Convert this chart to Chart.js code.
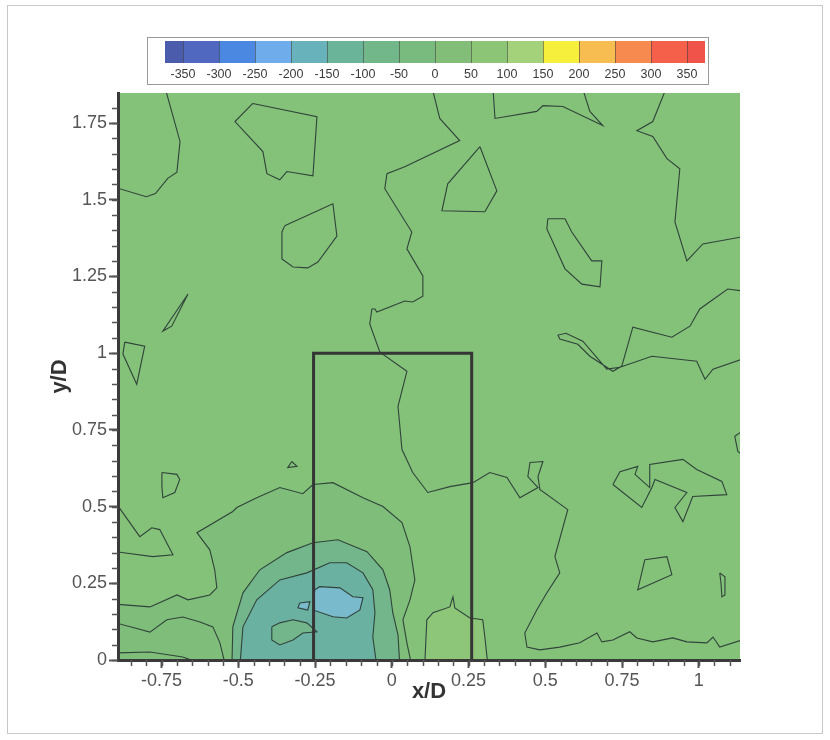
<!DOCTYPE html>
<html>
<head>
<meta charset="utf-8">
<script src="https://cdn.jsdelivr.net/npm/chart.js@4.4.0/dist/chart.umd.min.js"></script>
<style>
  body { margin: 0; background: #fff; }
  #frame { position: absolute; left: 7px; top: 5px; width: 814px; height: 727px; border: 1px solid #c8c8c8; }
  #wrap { position: absolute; left: 0; top: 0; width: 830px; height: 740px; }
</style>
</head>
<body>
<div id="frame"></div>
<div id="wrap"><canvas id="contour" width="830" height="740"></canvas></div>
<script>
// axis ranges and ticks
const xRange = [-0.892, 1.134];
const yRange = [0, 1.848];
const xTickVals = [-0.75, -0.5, -0.25, 0, 0.25, 0.5, 0.75, 1];
const xTickLabels = ['-0.75', '-0.5', '-0.25', '0', '0.25', '0.5', '0.75', '1'];
const yTickVals = [0, 0.25, 0.5, 0.75, 1, 1.25, 1.5, 1.75];
const yTickLabels = ['0', '0.25', '0.5', '0.75', '1', '1.25', '1.5', '1.75'];

// colour legend levels
const levels = [-350, -300, -250, -200, -150, -100, -50, 0, 50, 100, 150, 200, 250, 300, 350];
const levelColors = ['#4a5cab', '#5068c0', '#4b88e2', '#6eacec', '#68b2bc', '#6ab59a', '#71b78a', '#79ba7f',
  '#82be78', '#8cc575', '#a4d27b', '#f6ef3c', '#f7bd50', '#f78a4f', '#f4604a', '#ef5349'];

// body outline (x/D, y/D)
const boxX = [-0.255, -0.255, 0.26, 0.26];
const boxY = [0, 1, 1, 0];

// contour lines, [x/D, y/D]
const cTopLeft = [[-0.74, 1.87], [-0.69, 1.69], [-0.70, 1.59], [-0.73, 1.57], [-0.77, 1.52], [-0.80, 1.51], [-0.90, 1.54]];
const cTopPoly = [[-0.453, 1.814], [-0.244, 1.771], [-0.257, 1.578], [-0.342, 1.592], [-0.365, 1.565], [-0.407, 1.585], [-0.420, 1.657], [-0.511, 1.755]];
const cEgg = [[-0.349, 1.415], [-0.192, 1.487], [-0.179, 1.382], [-0.241, 1.297], [-0.274, 1.278], [-0.322, 1.281], [-0.358, 1.307], [-0.358, 1.395]];
const cSliver = [[-0.664, 1.193], [-0.746, 1.072], [-0.717, 1.088]];
const cLeftSmall = [[-0.870, 1.036], [-0.805, 1.023], [-0.831, 0.899], [-0.876, 0.997]];
const cMidLine = [[0.130, 1.87], [0.156, 1.765], [0.221, 1.693], [0.042, 1.608], [-0.016, 1.585], [-0.023, 1.536],
  [0.065, 1.395], [0.049, 1.340], [0.101, 1.252], [0.101, 1.186], [0.068, 1.167], [0.042, 1.170], [-0.049, 1.134],
  [-0.055, 1.144], [-0.065, 1.144], [-0.072, 1.095], [-0.039, 1.003], [0.049, 0.941], [0.020, 0.827], [0.033, 0.686],
  [0.068, 0.611], [0.117, 0.546], [0.189, 0.565], [0.264, 0.578], [0.319, 0.611], [0.375, 0.595], [0.417, 0.529],
  [0.476, 0.562], [0.443, 0.598], [0.450, 0.644], [0.492, 0.647], [0.476, 0.598], [0.482, 0.556], [0.573, 0.490],
  [0.531, 0.337], [0.547, 0.284], [0.505, 0.219], [0.472, 0.163], [0.433, 0.088], [0.440, 0.042], [0.482, 0.033],
  [0.547, 0.042], [0.612, 0.056], [0.668, 0.088], [0.684, 0.059], [0.720, 0.065], [0.775, 0.092], [0.798, 0.072],
  [0.850, 0.059], [0.915, 0.072], [0.961, 0.059], [1.026, 0.056], [1.046, 0.075], [1.068, 0.042], [1.14, 0.065]];
const cTopRightA = [[0.329, 1.87], [0.336, 1.765], [0.472, 1.788], [0.492, 1.807], [0.557, 1.804], [0.687, 1.742], [0.645, 1.788], [0.619, 1.87]];
const cTopRightB = [[0.896, 1.87], [0.850, 1.755], [0.798, 1.725], [0.850, 1.706], [0.896, 1.634], [0.938, 1.601],
  [0.922, 1.428], [0.961, 1.301], [1.013, 1.356], [1.14, 1.379]];
const cRightPoly = [[0.287, 1.673], [0.342, 1.529], [0.303, 1.461], [0.163, 1.464], [0.182, 1.552]];
const cRightLong = [[0.508, 1.438], [0.564, 1.438], [0.586, 1.395], [0.651, 1.301], [0.684, 1.301], [0.678, 1.216],
  [0.619, 1.225], [0.564, 1.275], [0.505, 1.405]];
const cRightFinger = [[1.14, 1.203], [1.094, 1.209], [1.003, 1.144], [0.971, 1.088], [0.912, 1.052], [0.785, 1.085],
  [0.749, 0.958], [0.720, 0.941], [0.645, 0.990], [0.606, 1.029], [0.547, 1.046], [0.541, 1.059], [0.567, 1.065],
  [0.622, 1.039], [0.700, 0.948], [0.743, 0.954], [0.847, 0.990], [0.993, 0.974], [1.020, 0.915], [1.046, 0.948], [1.14, 0.980]];
const cRightArrow = [[0.720, 0.572], [0.743, 0.614], [0.801, 0.631], [0.792, 0.605], [0.840, 0.562], [0.840, 0.637],
  [0.948, 0.654], [0.993, 0.621], [1.075, 0.582], [1.091, 0.539], [0.980, 0.533], [0.948, 0.451], [0.922, 0.497],
  [0.961, 0.546], [0.857, 0.588], [0.847, 0.562], [0.814, 0.497]];
const cKite = [[0.824, 0.327], [0.896, 0.337], [0.912, 0.278], [0.801, 0.229]];
const cOval = [[1.068, 0.284], [1.085, 0.271], [1.085, 0.212], [1.075, 0.206], [1.072, 0.252]];
const cEdge = [[1.14, 0.745], [1.117, 0.729], [1.127, 0.680], [1.14, 0.670]];
const cLeftLobe = [[-0.90, 0.513], [-0.821, 0.402], [-0.782, 0.431], [-0.756, 0.425], [-0.713, 0.343], [-0.779, 0.337], [-0.90, 0.353]];
const cLeftD = [[-0.749, 0.611], [-0.700, 0.605], [-0.691, 0.588], [-0.707, 0.546], [-0.746, 0.529], [-0.749, 0.565]];
const cTri = [[-0.326, 0.647], [-0.339, 0.627], [-0.309, 0.631]];
const cBottomLeft = [[-0.90, 0.023], [-0.788, 0.026], [-0.681, 0.010], [-0.625, -0.01]];
const cLowLeft = [[-0.90, 0.121], [-0.837, 0.104], [-0.788, 0.091], [-0.733, 0.131], [-0.681, 0.140], [-0.625, 0.124],
  [-0.583, 0.108], [-0.560, 0.056], [-0.544, -0.01]];

// wake deficit region, outer to inner
const cDome = [[-0.95, 0.186], [-0.788, 0.173], [-0.700, 0.212], [-0.664, 0.196], [-0.593, 0.212], [-0.570, 0.235],
  [-0.577, 0.294], [-0.593, 0.359], [-0.635, 0.415], [-0.518, 0.484], [-0.505, 0.497], [-0.440, 0.529], [-0.365, 0.562],
  [-0.290, 0.542], [-0.257, 0.572], [-0.192, 0.578], [-0.094, 0.529], [-0.029, 0.500], [0.033, 0.448], [0.059, 0.369],
  [0.075, 0.261], [0.059, 0.196], [0.036, 0.131], [0.049, 0.056], [0.065, -0.02], [-0.95, -0.02]];
const cLevel2 = [[-0.521, -0.02], [-0.518, 0.108], [-0.485, 0.219], [-0.430, 0.294], [-0.342, 0.350], [-0.257, 0.382],
  [-0.176, 0.392], [-0.081, 0.353], [-0.029, 0.294], [-0.007, 0.229], [0.003, 0.154], [0.020, 0.082], [0.026, -0.02]];
const cLevel3 = [[-0.495, -0.02], [-0.485, 0.108], [-0.440, 0.196], [-0.365, 0.261], [-0.277, 0.284], [-0.202, 0.317],
  [-0.147, 0.317], [-0.094, 0.284], [-0.062, 0.229], [-0.055, 0.154], [-0.062, 0.075], [-0.049, -0.02]];
const cHole = [[-0.391, 0.108], [-0.365, 0.121], [-0.322, 0.131], [-0.277, 0.121], [-0.244, 0.092], [-0.290, 0.088],
  [-0.322, 0.065], [-0.365, 0.049], [-0.391, 0.065]];
const cCore = [[-0.251, 0.229], [-0.235, 0.239], [-0.169, 0.235], [-0.127, 0.206], [-0.094, 0.203], [-0.104, 0.163],
  [-0.147, 0.137], [-0.192, 0.141], [-0.257, 0.163]];
const cCoreBit = [[-0.300, 0.186], [-0.267, 0.190], [-0.274, 0.163], [-0.306, 0.170]];
const cWarm = [[0.107, -0.02], [0.114, 0.131], [0.134, 0.154], [0.189, 0.173], [0.199, 0.206], [0.205, 0.170],
  [0.254, 0.137], [0.296, 0.131], [0.303, 0.075], [0.313, -0.02]];

const baseColor = '#84c179';
const lineColor = '#30443a';

function contour(pts, fillColor, order, closed) {
  const data = pts.map(p => ({x: p[0], y: p[1]}));
  if (closed) data.push({x: pts[0][0], y: pts[0][1]});
  return {
    data: data,
    showLine: true,
    tension: 0,
    pointRadius: 0,
    borderWidth: 1.1,
    borderColor: lineColor,
    backgroundColor: fillColor || 'transparent',
    fill: fillColor ? 'shape' : false,
    order: order
  };
}

const datasets = [
  contour(cDome, '#7fbd7b', 60, true),
  contour(cLevel2, '#73b68c', 50, true),
  contour(cLevel3, '#6bb1a2', 40, true),
  contour(cHole, '#73b68c', 35, true),
  contour(cCore, '#7abacd', 30, true),
  contour(cCoreBit, '#7abacd', 30, true),
  contour(cWarm, '#8dc679', 30, true),
  contour(cTopLeft, null, 10, false),
  contour(cTopPoly, null, 10, true),
  contour(cEgg, null, 10, true),
  contour(cSliver, null, 10, true),
  contour(cLeftSmall, null, 10, true),
  contour(cMidLine, null, 10, false),
  contour(cTopRightA, null, 10, false),
  contour(cTopRightB, null, 10, false),
  contour(cRightPoly, null, 10, true),
  contour(cRightLong, null, 10, true),
  contour(cRightFinger, null, 10, false),
  contour(cRightArrow, null, 10, true),
  contour(cKite, null, 10, true),
  contour(cOval, null, 10, true),
  contour(cEdge, null, 10, false),
  contour(cLeftLobe, null, 10, false),
  contour(cLeftD, null, 10, true),
  contour(cTri, null, 10, true),
  contour(cBottomLeft, null, 10, false),
  contour(cLowLeft, null, 10, false),
  {
    data: boxX.map((x, i) => ({x: x, y: boxY[i]})),
    showLine: true, tension: 0, pointRadius: 0, borderWidth: 3,
    borderColor: '#353535', fill: false, order: 0
  }
];

// background, minor ticks and colour legend
const plotDeco = {
  id: 'plotDeco',
  beforeDatasetsDraw(chart) {
    const a = chart.chartArea, ctx = chart.ctx;
    ctx.save();
    ctx.fillStyle = baseColor;
    ctx.fillRect(a.left, a.top, a.right - a.left, a.bottom - a.top);
    ctx.restore();
  },
  afterDraw(chart) {
    const ctx = chart.ctx, a = chart.chartArea;
    const xs = chart.scales.x, ys = chart.scales.y;
    ctx.save();
    ctx.strokeStyle = '#555';
    ctx.lineWidth = 1.5;
    ctx.beginPath();
    for (let v = -0.85; v <= 1.13; v += 0.05) {
      const px = Math.round(xs.getPixelForValue(v)) + 0.5;
      ctx.moveTo(px, a.bottom);
      ctx.lineTo(px, a.bottom + 6);
    }
    for (let v = 0; v <= 1.85; v += 0.05) {
      const py = Math.round(ys.getPixelForValue(v)) + 0.5;
      ctx.moveTo(a.left, py);
      ctx.lineTo(a.left - 6, py);
    }
    ctx.stroke();

    // colour legend
    const bx = 147, by = 37, bw = 561, bh = 47;
    const cx0 = 165, cy = 41, ch = 22, cell = 36, half = 18;
    ctx.fillStyle = '#fff';
    ctx.fillRect(bx, by, bw, bh);
    ctx.strokeStyle = '#9a9a9a';
    ctx.lineWidth = 1;
    ctx.strokeRect(bx + 0.5, by + 0.5, bw, bh);
    let x = cx0;
    levelColors.forEach((c, i) => {
      const w = (i === 0 || i === levelColors.length - 1) ? half : cell;
      ctx.fillStyle = c;
      ctx.fillRect(x, cy, w, ch);
      x += w;
    });
    ctx.strokeStyle = 'rgba(60,60,60,0.55)';
    ctx.beginPath();
    for (let i = 0; i < levels.length; i++) {
      const lx = cx0 + half + i * cell + 0.5;
      ctx.moveTo(lx, cy);
      ctx.lineTo(lx, cy + ch);
    }
    ctx.stroke();
    ctx.fillStyle = '#3c3c3c';
    ctx.font = '12.5px "Liberation Sans", Arial, sans-serif';
    ctx.textAlign = 'center';
    ctx.textBaseline = 'middle';
    levels.forEach((lv, i) => {
      ctx.fillText(String(lv), cx0 + half + i * cell, 75);
    });
    ctx.restore();
  }
};

Chart.defaults.font.family = '"Liberation Sans", Arial, sans-serif';

new Chart(document.getElementById('contour'), {
  type: 'scatter',
  data: { datasets: datasets },
  options: {
    responsive: false,
    animation: false,
    layout: { padding: { left: 0, top: 93, right: 90, bottom: 0 } },
    plugins: { legend: { display: false }, tooltip: { enabled: false } },
    scales: {
      x: {
        type: 'linear',
        min: xRange[0],
        max: xRange[1],
        afterBuildTicks(scale) { scale.ticks = xTickVals.map(v => ({value: v})); },
        afterFit(scale) { scale.height = 80; },
        ticks: {
          color: '#555',
          font: { size: 18 },
          padding: 2,
          maxRotation: 0,
          autoSkip: false,
          callback: (v, i) => xTickLabels[i]
        },
        grid: { drawOnChartArea: false, tickLength: 8, tickWidth: 2, tickColor: '#555' },
        border: { display: true, width: 3, color: '#3a3a3a', z: 1 },
        title: { display: true, text: 'x/D', color: '#333', font: { size: 22, weight: 'bold' }, padding: { top: 35, bottom: 35 } }
      },
      y: {
        type: 'linear',
        min: yRange[0],
        max: yRange[1],
        afterBuildTicks(scale) { scale.ticks = yTickVals.map(v => ({value: v})); },
        afterFit(scale) { scale.width = 118; },
        ticks: {
          color: '#555',
          font: { size: 18 },
          padding: 2,
          autoSkip: false,
          callback: (v, i) => yTickLabels[i]
        },
        grid: { drawOnChartArea: false, tickLength: 9, tickWidth: 2, tickColor: '#555' },
        border: { display: true, width: 3, color: '#3a3a3a', z: 1 },
        title: { display: true, text: 'y/D', color: '#333', font: { size: 22, weight: 'bold' }, padding: { top: 47, bottom: 47 } }
      }
    }
  },
  plugins: [plotDeco]
});
</script>
</body>
</html>
